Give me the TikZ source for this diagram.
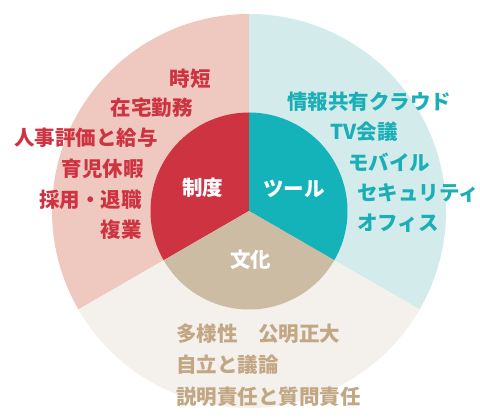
\documentclass[tikz,border=0pt]{standalone}
\usepackage{fontspec}
\setmainfont{Noto Sans CJK JP}
\usepackage{xcolor}
\usepackage{tikz}
\definecolor{seidoRed}{HTML}{CE3342}
\definecolor{seidoPink}{HTML}{EFC9BF}
\definecolor{toolTeal}{HTML}{14B3BA}
\definecolor{toolText}{HTML}{1AAFB6}
\definecolor{toolLight}{HTML}{D4EBEC}
\definecolor{bunkaTan}{HTML}{CDBCA4}
\definecolor{bunkaLight}{HTML}{F4F0EB}
\definecolor{bunkaText}{HTML}{C2A784}
\tikzstyle{core} = [inner sep=0pt, text=white, font=\fontsize{20.5}{24}\selectfont\bfseries]
\tikzstyle{seidoitem} = [inner sep=0pt, anchor=east, text=seidoRed, font=\fontsize{20.5}{24}\selectfont\bfseries]
\tikzstyle{toolitem} = [inner sep=0pt, anchor=west, text=toolText, font=\fontsize{20.5}{24}\selectfont\bfseries]
\tikzstyle{bunkaitem} = [inner sep=0pt, anchor=west, text=bunkaText, font=\fontsize{20.5}{24}\selectfont\bfseries]
\begin{document}
\begin{tikzpicture}[x=1pt, y=1pt]
        \useasboundingbox (0,0) rectangle (480,420);
        \coordinate (center) at (249,209);

        \fill [seidoPink] (center) -- ++(90:197) arc (90:210:197) -- cycle;
        \fill [toolLight] (center) -- ++(-30:197) arc (-30:90:197) -- cycle;
        \fill [bunkaLight] (center) -- ++(210:197) arc (210:330:197) -- cycle;
        \fill [seidoRed] (center) -- ++(90:98.5) arc (90:210:98.5) -- cycle;
        \fill [toolTeal] (center) -- ++(-30:98.5) arc (-30:90:98.5) -- cycle;
        \fill [bunkaTan] (center) -- ++(210:98.5) arc (210:330:98.5) -- cycle;

        \node (seido) [core] at (202.5,232) {制度};
        \node (tool) [core] at (294,231) {ツール};
        \node (bunka) [core] at (250.5,160) {文化};

        \node (jitan) [seidoitem] at (211,341) {時短};
        \node (zaitaku) [seidoitem] at (193,312) {在宅勤務};
        \node (hyouka) [seidoitem] at (158,282) {人事評価と給与};
        \node (ikuji) [seidoitem] at (144,251) {育児休暇};
        \node (saiyou) [seidoitem] at (142,220) {採用・退職};
        \node (fukugyou) [seidoitem] at (142,190) {複業};

        \node (cloud) [toolitem] at (287,318) {情報共有クラウド};
        \node (tvkaigi) [toolitem] at (330,288) {TV会議};
        \node (mobile) [toolitem] at (348,258) {モバイル};
        \node (security) [toolitem] at (357,227) {セキュリティ};
        \node (office) [toolitem] at (357,197) {オフィス};

        \node (tayousei) [bunkaitem] at (176,86) {多様性　公明正大};
        \node (jiritsu) [bunkaitem] at (176,55) {自立と議論};
        \node (setsumei) [bunkaitem] at (176,23) {説明責任と質問責任};
    \end{tikzpicture}
\end{document}
